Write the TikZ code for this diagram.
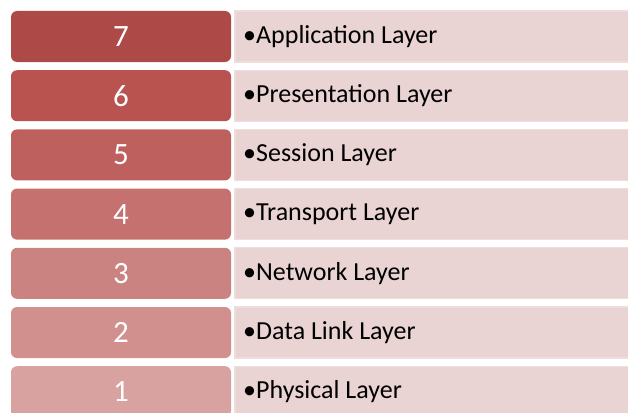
\documentclass[tikz,border=0pt]{standalone}
\usepackage{fontspec}
\setmainfont{Carlito}
\definecolor{lay7}{HTML}{AD4A48}
\definecolor{lay6}{HTML}{B8534F}
\definecolor{lay5}{HTML}{BE615E}
\definecolor{lay4}{HTML}{C4716F}
\definecolor{lay3}{HTML}{CB8381}
\definecolor{lay2}{HTML}{D18F8E}
\definecolor{lay1}{HTML}{D8A2A1}
\definecolor{descfill}{HTML}{E9D3D3}
\definecolor{descedge}{HTML}{EEDDDD}
\tikzset{
  x=1pt, y=-1pt,
  numbox/.style={text=white, font=\fontsize{31}{33}\selectfont},
  descbox/.style={fill=descfill, draw=descedge, line width=1.2pt},
  desctext/.style={anchor=west, text=black, font=\fontsize{26}{28}\selectfont, inner sep=0pt},
}
\begin{document}
\begin{tikzpicture}
\useasboundingbox (0,0) rectangle (628,412);
\begin{scope}
\clip (0,0) rectangle (628,412);
\foreach \n/\lbl [count=\i from 0] in {7/Application Layer,6/Presentation Layer,5/Session Layer,4/Transport Layer,3/Network Layer,2/Data Link Layer,1/Physical Layer}{
  \pgfmathsetmacro{\top}{11+59.2*\i}
  \fill[descbox] (235,\top) rectangle (629,\top+51);
  \node[desctext] (d\n) at (243,\top+25.5) {•\lbl};
  \fill[lay\n, rounded corners=6pt] (11,\top) rectangle (231,\top+51);
  \node[numbox] (n\n) at (121,\top+25.5) {\n};
}
\end{scope}
\end{tikzpicture}
\end{document}
